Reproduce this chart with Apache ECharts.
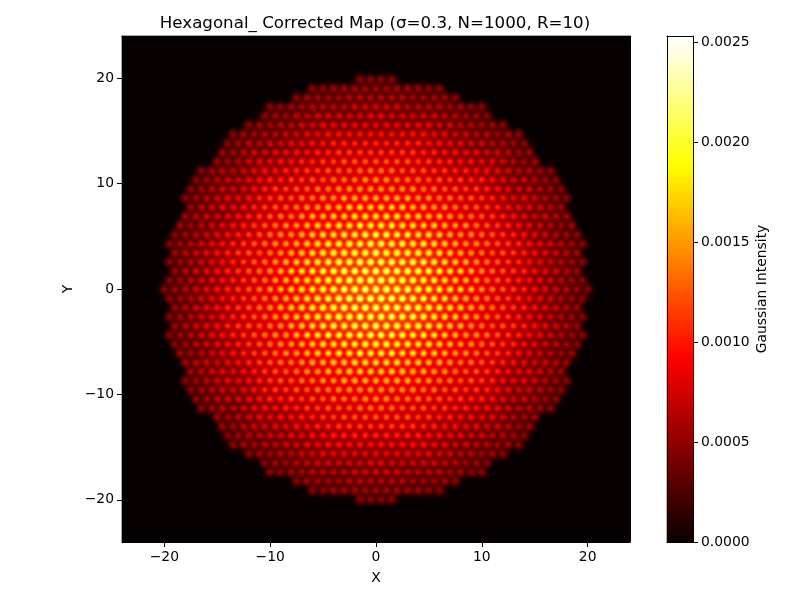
<!DOCTYPE html>
<html><head><meta charset="utf-8">
<style>html,body{margin:0;padding:0;background:#fff;overflow:hidden}#c{width:800px;height:600px}</style>
<script src="https://cdn.jsdelivr.net/npm/echarts@6/dist/echarts.min.js"></script>
</head><body><div id="c"></div>
<script>
// Values.
const titleText = 'Hexagonal_ Corrected Map (σ=0.3, N=1000, R=10)';
const xTicks = [-20, -10, 0, 10, 20];
const yTicks = [-20, -10, 0, 10, 20];
const barTicks = [0, 0.0005, 0.0010, 0.0015, 0.0020, 0.0025];
const axisRange = [-24, 24];
const barMax = 0.00253;
// Half-width of each lattice row, row 0 is Y=0; rows go out symmetrically.
const rowHalfWidths = [20, 19.5, 19, 19.5, 19, 19.5, 19, 18.5, 18, 17.5, 18, 17.5, 17, 16.5, 15, 14.5, 14, 13.5, 12, 10.5, 10, 7.5, 6, 1.5];
const rowStep = 0.866;
// Estimated peak height of a spot, by distance from the centre (index = whole units).
const peakByRadius = [.00235, .00233, .00230, .00225, .00218, .00210, .00201, .00191, .00181, .00170, .00158, .00147, .00135, .00123, .00112, .00100, .00089, .00078, .00068, .00059, .00051];
// Spot width from the chart's title; the heat field is the sum of these kernels,
// so the heatmap cells are computed from the spots above, not read one by one.
const sigma = 0.3;
const cellCols = 508, cellRows = 506;
const hotAnchors = [[0, 10, 0, 0], [0.365, 255, 0, 0], [0.746, 255, 255, 0], [1, 255, 255, 255]];

const spots = [];
rowHalfWidths.forEach((hw, k) => {
  for (let x = -hw; x <= hw; x++) {
    const y = k * rowStep;
    const r = Math.min(peakByRadius.length - 1, Math.round(Math.hypot(x, y)));
    spots.push([x, y, peakByRadius[r]]);
    if (k > 0) spots.push([x, -y, peakByRadius[r]]);
  }
});
const span = axisRange[1] - axisRange[0];
const colCats = [], rowCats = [], cells = [];
for (let i = 0; i < cellCols; i++) colCats.push(i);
for (let j = 0; j < cellRows; j++) rowCats.push(j);
for (let j = 0; j < cellRows; j++) {
  const cy = axisRange[0] + (j + .5) * span / cellRows;
  const near = spots.filter(s => Math.abs(s[1] - cy) < 1.6);
  for (let i = 0; i < cellCols; i++) {
    const cx = axisRange[0] + (i + .5) * span / cellCols;
    let v = 0;
    for (const s of near) {
      const dx = s[0] - cx;
      if (dx > 1.6 || dx < -1.6) continue;
      const dy = s[1] - cy;
      v += s[2] * Math.exp(-(dx * dx + dy * dy) / (2 * sigma * sigma));
    }
    cells.push([i, j, v]);
  }
}
const barCats = [], barCells = [];
for (let i = 0; i < 253; i++) { barCats.push(i); barCells.push([0, i, (i + .5) / 253 * barMax]); }

const hotColors = [];
for (let i = 0; i <= 255; i++) {
  const t = i / 255;
  let a = 0;
  while (a < hotAnchors.length - 2 && t > hotAnchors[a + 1][0]) a++;
  const p = hotAnchors[a], q = hotAnchors[a + 1], f = (t - p[0]) / (q[0] - p[0]);
  hotColors.push('rgb(' + [1, 2, 3].map(c => Math.round(p[c] + (q[c] - p[c]) * f)).join(',') + ')');
}

const FONT = '"DejaVu Sans"';
const lineStyle = { color: '#000', width: 1 };
const minus = v => String(v).replace('-', '\u2212');
function frameAxis(gridIndex, position, min, max, extra) {
  return Object.assign({
    type: 'value', gridIndex, position, min, max, z: 5,
    splitLine: { show: false }, axisLine: { show: true, onZero: false, lineStyle },
    axisTick: { show: false }, axisLabel: { show: false }
  }, extra || {});
}
function tickAxis(values, formatter, margin) {
  return {
    axisTick: { show: true, length: 5, inside: false, lineStyle, customValues: values },
    axisLabel: { show: true, color: '#000', fontFamily: FONT, fontSize: 13.9, margin: margin, formatter, customValues: values, hideOverlap: false, showMinLabel: true, showMaxLabel: true }
  };
}
const nameFont = { color: '#000', fontFamily: FONT, fontSize: 13.9 };
const hidden = (gridIndex, data) => ({ type: 'category', gridIndex, data, show: false, boundaryGap: true });

const plotBox = { left: 122, top: 36, width: 508, height: 506 };
const barBox = { left: 667, top: 36, width: 26, height: 506 };
const option = {
  animation: false,
  backgroundColor: '#fff',
  title: { text: titleText, left: 370, top: 10, textAlign: 'center', textStyle: { color: '#000', fontFamily: FONT, fontSize: 16.67, fontWeight: 'normal' } },
  grid: [plotBox, plotBox, barBox, barBox].map(b => Object.assign({ containLabel: false }, b)),
  visualMap: { show: false, type: 'continuous', min: 0, max: barMax, dimension: 2, seriesIndex: [0, 1], inRange: { color: hotColors } },
  xAxis: [
    hidden(0, colCats),
    frameAxis(1, 'bottom', axisRange[0], axisRange[1], Object.assign(tickAxis(xTicks, minus, 8), { name: 'X', nameLocation: 'middle', nameGap: 29, nameMoveOverlap: false, nameTextStyle: nameFont })),
    frameAxis(1, 'top', axisRange[0], axisRange[1]),
    hidden(2, ['bar']),
    frameAxis(3, 'bottom', 0, 1),
    frameAxis(3, 'top', 0, 1)
  ],
  yAxis: [
    hidden(0, rowCats),
    frameAxis(1, 'left', axisRange[0], axisRange[1], Object.assign(tickAxis(yTicks, minus, 8), { name: 'Y', nameLocation: 'middle', nameGap: 47, nameMoveOverlap: false, nameRotate: 90, nameTextStyle: nameFont })),
    frameAxis(1, 'right', axisRange[0], axisRange[1]),
    hidden(2, barCats),
    frameAxis(3, 'left', 0, barMax),
    frameAxis(3, 'right', 0, barMax, Object.assign(tickAxis(barTicks, v => (+v).toFixed(4), 8), { name: 'Gaussian Intensity', nameLocation: 'middle', nameGap: 62, nameMoveOverlap: false, nameRotate: 90, nameTextStyle: nameFont }))
  ],
  series: [
    { type: 'heatmap', xAxisIndex: 0, yAxisIndex: 0, data: cells, progressive: 0, emphasis: { disabled: true }, itemStyle: { borderWidth: 0 } },
    { type: 'heatmap', xAxisIndex: 3, yAxisIndex: 3, data: barCells, progressive: 0, emphasis: { disabled: true }, itemStyle: { borderWidth: 0 } }
  ]
};
echarts.init(document.getElementById('c'), null, { renderer: 'canvas' }).setOption(option);
</script></body></html>
